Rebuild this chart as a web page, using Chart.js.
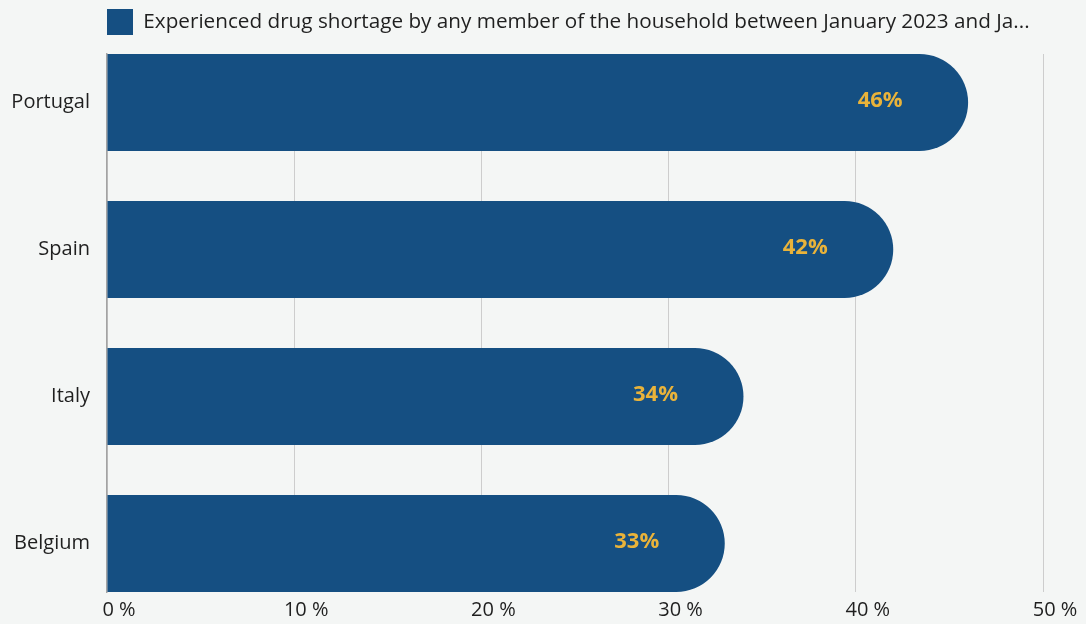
<!DOCTYPE html>
<html>
<head>
<meta charset="utf-8">
<script src="https://cdn.jsdelivr.net/npm/chart.js@4/dist/chart.umd.min.js"></script>
<style>
    html, body { margin: 0; padding: 0; background: #f4f6f5; }
    #wrap { position: relative; width: 1086px; height: 624px; }
</style>
</head>
<body>
<div id="wrap"><canvas id="shortageChart"></canvas></div>
<script>
const countries = ['Portugal', 'Spain', 'Italy', 'Belgium'];
const shortageShare = [46, 42, 34, 33];
const xTicks = [0, 10, 20, 30, 40, 50];
const seriesLabel = 'Experienced drug shortage by any member of the household between January 2023 and Ja...';

const BAR_BLUE = '#154f82';
const LABEL_GOLD = '#e9b33a';
const FONT = '"Open Sans", "Noto Sans", sans-serif';

// value labels inside the rounded end of each bar
const barValueLabels = {
    id: 'barValueLabels',
    afterDatasetsDraw(chart) {
        const ctx = chart.ctx;
        const meta = chart.getDatasetMeta(0);
        ctx.save();
        ctx.font = 'bold 22px ' + FONT;
        ctx.fillStyle = LABEL_GOLD;
        ctx.textAlign = 'center';
        ctx.textBaseline = 'middle';
        meta.data.forEach((bar, i) => {
            ctx.fillText(shortageShare[i] + '%', bar.x - 88, bar.y - 2);
        });
        ctx.restore();
    }
};

function initializeChart() {
    const ctx = document.getElementById('shortageChart').getContext('2d');
    window.shortageChart = new Chart(ctx, {
        type: 'bar',
        data: {
            datasets: [{
                label: seriesLabel,
                data: shortageShare.map((v, i) => ({ x: v, y: i })),
                backgroundColor: BAR_BLUE,
                borderRadius: { topRight: 999, bottomRight: 999 },
                borderSkipped: 'start',
                categoryPercentage: 1,
                barPercentage: 0.66
            }]
        },
        options: {
            indexAxis: 'y',
            responsive: true,
            maintainAspectRatio: false,
            animation: false,
            layout: { padding: { top: 9, right: 43, bottom: 0, left: 0 } },
            plugins: {
                legend: {
                    position: 'top',
                    align: 'start',
                    fullSize: false,
                    labels: {
                        boxWidth: 26,
                        boxHeight: 26,
                        padding: 0,
                        color: '#1f1f1f',
                        font: { family: FONT, size: 20.7 }
                    }
                },
                // empty title used as a gap between legend and plot
                title: {
                    display: true,
                    text: '',
                    weight: 500,
                    fullSize: false,
                    padding: 0,
                    font: { size: 9, lineHeight: 1 }
                },
                tooltip: { enabled: false }
            },
            scales: {
                x: {
                    type: 'linear',
                    min: 0,
                    max: 50,
                    afterBuildTicks: scale => { scale.ticks = xTicks.map(v => ({ value: v })); },
                    afterFit: scale => { scale.height = 32; },
                    grid: { color: '#cdcdcd', drawTicks: false },
                    border: { display: false },
                    ticks: {
                        padding: 6,
                        labelOffset: 12,
                        color: '#1f1f1f',
                        font: { family: FONT, size: 20 },
                        callback: v => v + ' %'
                    }
                },
                y: {
                    type: 'linear',
                    bounds: 'data',
                    offset: false,
                    reverse: true,
                    min: -0.33,
                    max: 3.33,
                    afterBuildTicks: scale => { scale.ticks = countries.map((c, i) => ({ value: i })); },
                    afterFit: scale => { scale.width = 107; },
                    grid: { display: false, drawTicks: false, offset: false },
                    border: { display: true, color: '#a3a3a3', width: 1.5 },
                    ticks: {
                        padding: 17,
                        color: '#1f1f1f',
                        font: { family: FONT, size: 20 },
                        callback: v => countries[v]
                    }
                }
            }
        },
        plugins: [barValueLabels]
    });
}

document.addEventListener('DOMContentLoaded', initializeChart);
</script>
</body>
</html>
